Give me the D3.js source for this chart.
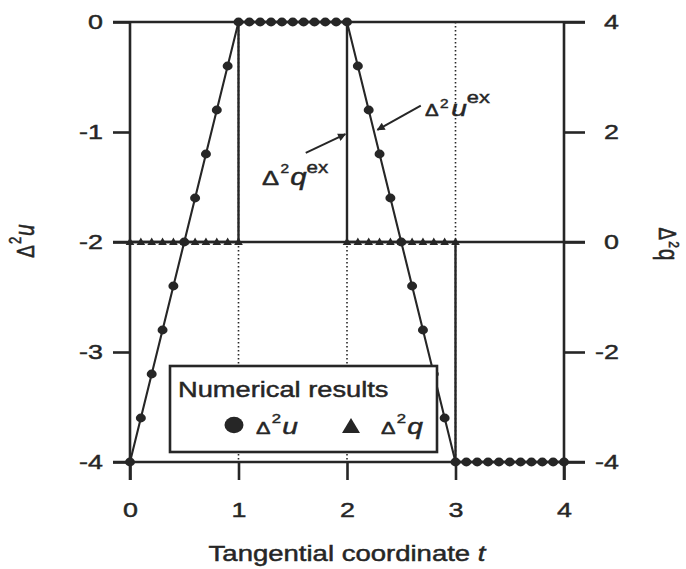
<!DOCTYPE html>
<html>
<head>
<meta charset="utf-8">
<script src="https://cdn.jsdelivr.net/npm/d3@7"></script>
<style>
  body { margin: 0; background: #fff; }
  svg { display: block; font-family: "Liberation Sans", Arial, Helvetica, sans-serif; }
  text { stroke: #262626; stroke-width: 0.45px; }
</style>
</head>
<body>
<svg id="chart" width="686" height="569"></svg>
<script>
// Numerical second differences of u along the tangential coordinate t
const tNum = [0, 0.1, 0.2, 0.3, 0.4, 0.5, 0.6, 0.7, 0.8, 0.9, 1.0,
              1.1, 1.2, 1.3, 1.4, 1.5, 1.6, 1.7, 1.8, 1.9, 2.0,
              2.1, 2.2, 2.3, 2.4, 2.5, 2.6, 2.7, 2.8, 2.9, 3.0,
              3.1, 3.2, 3.3, 3.4, 3.5, 3.6, 3.7, 3.8, 3.9, 4.0];
const uNum = [-4, -3.6, -3.2, -2.8, -2.4, -2, -1.6, -1.2, -0.8, -0.4, 0,
              0, 0, 0, 0, 0, 0, 0, 0, 0, 0,
              -0.4, -0.8, -1.2, -1.6, -2, -2.4, -2.8, -3.2, -3.6, -4,
              -4, -4, -4, -4, -4, -4, -4, -4, -4, -4];

// Numerical second differences of q (visible where they lie on q = 0)
const tQNum = [0, 0.1, 0.2, 0.3, 0.4, 0.5, 0.6, 0.7, 0.8, 0.9, 1.0,
               2.0, 2.1, 2.2, 2.3, 2.4, 2.5, 2.6, 2.7, 2.8, 2.9, 3.0];
const qNum = [0, 0, 0, 0, 0, 0, 0, 0, 0, 0, 0,
              0, 0, 0, 0, 0, 0, 0, 0, 0, 0, 0];

// Exact solutions
const tExactU = [0, 1, 2, 3, 4];
const uExact = [-4, 0, 0, -4, -4];
const tExactQ = [0, 1, 1, 2, 2, 3, 3, 4];
const qExact = [0, 0, 4, 4, 0, 0, -4, -4];

// Axis ticks
const tTicks = [0, 1, 2, 3, 4];
const uTicks = [-4, -3, -2, -1, 0];
const qTicks = [-4, -2, 0, 2, 4];
const uFrameLines = [-4, -2, 0];
const tDotted = [1, 2, 3];

const INK = "#262626";
const SX = 1.28; // horizontal widening of the lettering
const fmt = d => String(d); // plain hyphen for negatives

const svg = d3.select("#chart");
const x = d3.scaleLinear().domain([0, 4]).range([130, 564]);
const yU = d3.scaleLinear().domain([-4, 0]).range([462, 22]);
const yQ = d3.scaleLinear().domain([-4, 4]).range([462, 22]);

// widen a text element around its anchor point
function widen(sel) {
  sel.each(function () {
    const t = d3.select(this);
    const tx = +t.attr("x") || 0, ty = +t.attr("y") || 0;
    t.attr("x", 0).attr("y", 0).attr("transform", `translate(${tx},${ty}) scale(${SX},1)`);
  });
}

// composite label made of tspans
function mathText(parent, transform, parts, anchor) {
  const txt = parent.append("text")
    .attr("transform", transform)
    .attr("fill", INK)
    .attr("text-anchor", anchor || "start");
  parts.forEach(p => {
    txt.append("tspan")
      .attr("font-size", p.size)
      .attr("dy", p.dy || 0)
      .attr("dx", p.dx || 0)
      .attr("font-style", p.italic ? "italic" : "normal")
      .text(p.text);
  });
  return txt;
}

// dotted guide lines at interior t ticks
svg.append("g").selectAll("line").data(tDotted).join("line")
  .attr("x1", d => x(d)).attr("x2", d => x(d))
  .attr("y1", yU(0)).attr("y2", yU(-4))
  .attr("stroke", INK).attr("stroke-width", 1.6)
  .attr("stroke-dasharray", "1.6,2.4");

// axes
const axStyle = g => {
  g.select(".domain").remove();
  g.selectAll(".tick line").attr("stroke", INK).attr("stroke-width", 2.6);
  g.selectAll(".tick text").attr("fill", INK).attr("font-size", 21);
};

const axLeft = svg.append("g").attr("transform", `translate(${x(0)},0)`)
  .call(d3.axisLeft(yU).tickValues(uTicks).tickSize(17).tickPadding(10).tickFormat(fmt))
  .call(axStyle);
axLeft.selectAll(".tick text").call(widen);

const axRight = svg.append("g").attr("transform", `translate(${x(4)},0)`)
  .call(d3.axisRight(yQ).tickValues(qTicks).tickSize(21).tickPadding(34).tickFormat(fmt))
  .call(axStyle);
axRight.selectAll(".tick text").attr("text-anchor", "end").call(widen);

const axBottom = svg.append("g").attr("transform", `translate(0,${yU(-4)})`)
  .call(d3.axisBottom(x).tickValues(tTicks).tickSize(18).tickPadding(22).tickFormat(fmt))
  .call(axStyle);
axBottom.selectAll(".tick text").call(widen);

// frame: horizontal lines at u = 0, -2, -4 and side borders
svg.append("g").selectAll("line").data(uFrameLines).join("line")
  .attr("x1", x(0) - 17).attr("x2", x(4) + 21)
  .attr("y1", d => yU(d)).attr("y2", d => yU(d))
  .attr("stroke", INK).attr("stroke-width", 2.6);
svg.append("g").selectAll("line").data([0, 4]).join("line")
  .attr("x1", d => x(d)).attr("x2", d => x(d))
  .attr("y1", yU(0)).attr("y2", yU(-4) + 18)
  .attr("stroke", INK).attr("stroke-width", 2.6);

// exact q (step function, right axis)
svg.append("path")
  .datum(d3.range(tExactQ.length))
  .attr("fill", "none").attr("stroke", INK).attr("stroke-width", 2.4)
  .attr("d", d3.line().x(i => x(tExactQ[i])).y(i => yQ(qExact[i])));

// exact u (piecewise linear, left axis)
svg.append("path")
  .datum(d3.range(tExactU.length))
  .attr("fill", "none").attr("stroke", INK).attr("stroke-width", 2.1)
  .attr("d", d3.line().x(i => x(tExactU[i])).y(i => yU(uExact[i])));

// numerical q: triangles
svg.append("g").selectAll("path").data(d3.range(tQNum.length)).join("path")
  .attr("transform", i => `translate(${x(tQNum[i])},${yQ(qNum[i])})`)
  .attr("d", "M0,-4.5 L4.3,3 L-4.3,3 Z")
  .attr("fill", INK);

// numerical u: dots
svg.append("g").selectAll("ellipse").data(d3.range(tNum.length)).join("ellipse")
  .attr("cx", i => x(tNum[i])).attr("cy", i => yU(uNum[i]))
  .attr("rx", 5).attr("ry", 4.4)
  .attr("fill", INK);

// legend
const leg = svg.append("g");
leg.append("rect")
  .attr("x", 170).attr("y", 366).attr("width", 267).attr("height", 86)
  .attr("fill", "#fff").attr("stroke", INK).attr("stroke-width", 2.6);
leg.append("text").attr("x", 178).attr("y", 397)
  .attr("font-size", 21.3).attr("fill", INK)
  .text("Numerical results").call(widen);
leg.append("ellipse").attr("cx", 234).attr("cy", 425).attr("rx", 9.5).attr("ry", 8.3).attr("fill", INK);
mathText(leg, `translate(256,434) scale(${SX},1)`, [
  { text: "Δ", size: 17 },
  { text: "2", size: 13, dy: -11, dx: 1 },
  { text: "u", size: 22, dy: 11, dx: 1, italic: true }
]);
leg.append("path").attr("transform", "translate(351,426)")
  .attr("d", "M0,-8 L9,7 L-9,7 Z").attr("fill", INK);
mathText(leg, `translate(381,434) scale(${SX},1)`, [
  { text: "Δ", size: 17 },
  { text: "2", size: 13, dy: -11, dx: 1 },
  { text: "q", size: 22, dy: 11, dx: 1, italic: true }
]);

// annotations with arrows
const defs = svg.append("defs");
defs.append("marker").attr("id", "head")
  .attr("viewBox", "0 0 10 10").attr("refX", 9).attr("refY", 5)
  .attr("markerWidth", 5).attr("markerHeight", 4).attr("orient", "auto")
  .attr("markerUnits", "strokeWidth")
  .append("path").attr("d", "M0,0 L10,5 L0,10 Z").attr("fill", INK);

svg.append("line")
  .attr("x1", x(1.62)).attr("y1", yU(-1.19))
  .attr("x2", x(1.985)).attr("y2", yU(-1.02))
  .attr("stroke", INK).attr("stroke-width", 2).attr("marker-end", "url(#head)");
mathText(svg, `translate(${x(1.217)},${yU(-1.48)}) scale(${SX},1)`, [
  { text: "Δ", size: 20 },
  { text: "2", size: 12, dy: -12, dx: 1 },
  { text: "q", size: 23, dy: 12, dx: 1, italic: true },
  { text: "ex", size: 16, dy: -12 }
]);

svg.append("line")
  .attr("x1", x(2.68)).attr("y1", yU(-0.76))
  .attr("x2", x(2.28)).attr("y2", yU(-0.98))
  .attr("stroke", INK).attr("stroke-width", 2).attr("marker-end", "url(#head)");
mathText(svg, `translate(${x(2.72)},${yU(-0.85)}) scale(${SX},1)`, [
  { text: "Δ", size: 16 },
  { text: "2", size: 12, dy: -8, dx: 1 },
  { text: "u", size: 22, dy: 8, dx: 2, italic: true },
  { text: "ex", size: 17, dy: -13 }
]);

// axis titles
mathText(svg, `translate(34,241) rotate(-90) scale(1,${SX})`, [
  { text: "Δ", size: 19 },
  { text: "2", size: 13, dy: -10, dx: 1 },
  { text: "u", size: 21, dy: 10, dx: 1, italic: true }
], "middle");
mathText(svg, `translate(659,244) rotate(90) scale(1,${SX})`, [
  { text: "Δ", size: 19 },
  { text: "2", size: 12, dy: -8, dx: 1 },
  { text: "q", size: 21, dy: 8, dx: 1 }
], "middle");

const title = svg.append("text").attr("x", x(2)).attr("y", 561)
  .attr("text-anchor", "middle").attr("fill", INK);
title.append("tspan").attr("font-size", 21.5).text("Tangential coordinate ");
title.append("tspan").attr("font-size", 21.5).attr("font-style", "italic").text("t");
title.call(widen);
</script>
</body>
</html>
